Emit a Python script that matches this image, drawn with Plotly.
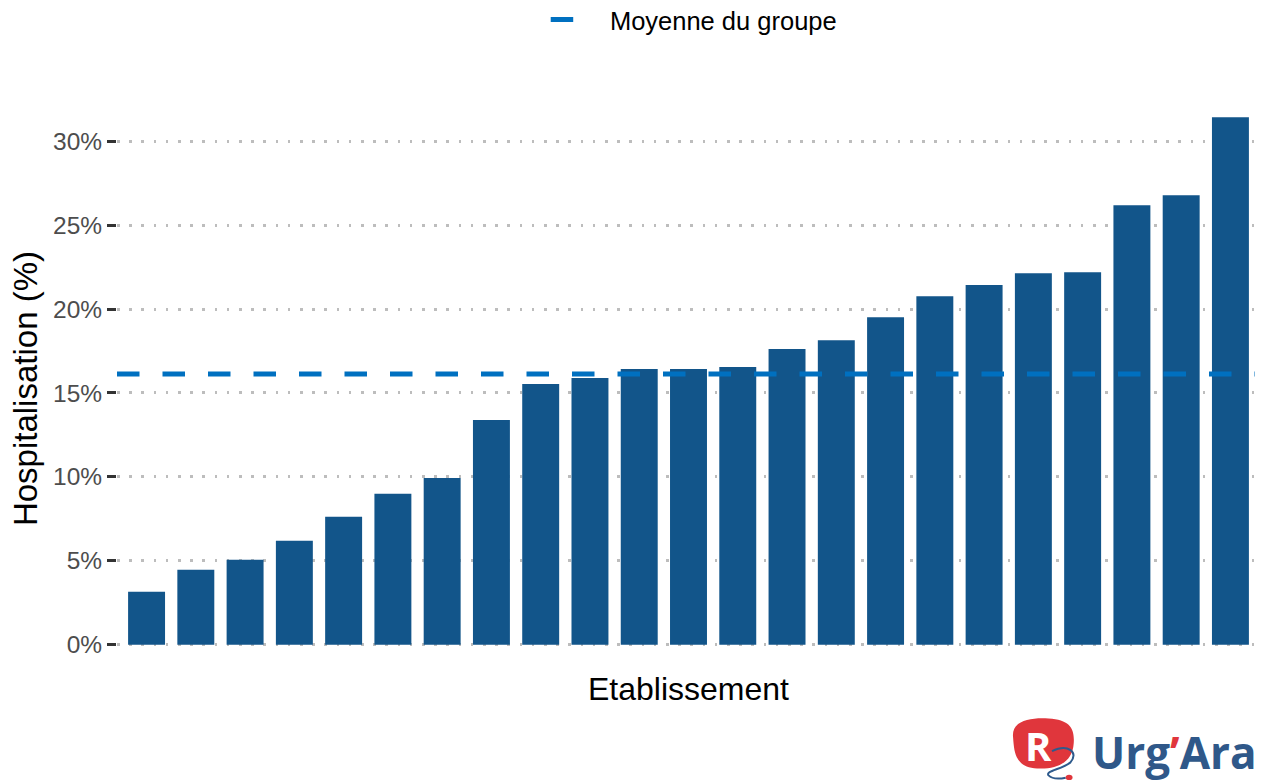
import plotly.graph_objects as go

# taux d'hospitalisation par etablissement (trié)
etablissements = [f"Etab {i}" for i in range(1, 24)]
hospitalisation = [3.15, 4.46, 5.06, 6.19, 7.62, 8.99, 9.94, 13.39, 15.54, 15.89,
                   16.43, 16.43, 16.55, 17.62, 18.15, 19.52, 20.77, 21.43, 22.14,
                   22.20, 26.19, 26.79, 31.43]
moyenne_groupe = 16.13
y_ticks = [0, 5, 10, 15, 20, 25, 30]
y_labels = ["0%", "5%", "10%", "15%", "20%", "25%", "30%"]

fig = go.Figure()
fig.add_trace(go.Bar(x=etablissements, y=hospitalisation, marker_color="#12558A",
                     marker_line_width=0, showlegend=False, hoverinfo="x+y"))

# ligne moyenne du groupe
fig.add_shape(type="line", xref="paper", x0=0, x1=1, yref="y",
              y0=moyenne_groupe, y1=moyenne_groupe,
              line=dict(color="#0070C0", width=5, dash="22.5px,23px"),
              showlegend=True, name="\u00a0\u00a0Moyenne du groupe", layer="above")

ymax = max(hospitalisation)
pad = ymax * 0.05
n = len(etablissements)
# la page html a une marge de 8px -> figure un peu plus petite
fig.update_layout(
    width=1255, height=774,
    margin=dict(l=109, r=3, t=83, b=111),
    plot_bgcolor="white", paper_bgcolor="white",
    bargap=0.25,
    font=dict(family="Liberation Sans, Arial, sans-serif", color="black"),
    legend=dict(orientation="h", x=0.505, xanchor="center", yref="container",
                y=1 - 12 / 774, yanchor="middle", font=dict(size=25.5, color="black"),
                itemwidth=40),
    xaxis=dict(range=[-0.6, n - 0.4], showticklabels=False, ticks="",
               showgrid=False, zeroline=False,
               title=dict(text="Etablissement", font=dict(size=32), standoff=6)),
    yaxis=dict(range=[-pad, ymax + pad], tickvals=y_ticks, ticktext=y_labels,
               ticks="outside", ticklen=9, tickwidth=2.5, tickcolor="#333333",
               tickfont=dict(size=24.5, color="#4D4D4D"),
               showgrid=True, gridcolor="#BDBDBD", gridwidth=2.6, griddash="2.6px,9.6px",
               zeroline=False, showline=False),
)

# titre axe y
fig.add_annotation(x=-92 / 1143, y=0.486, xref="paper", yref="paper",
                   text="Hospitalisation (%)", textangle=-90, showarrow=False,
                   xanchor="center", yanchor="middle", font=dict(size=33, color="black"))

# logo Urg'Ara
fig.add_shape(type="path", xref="paper", yref="paper", layer="below",
              path="M 0.784,-0.115 C 0.782,-0.085 0.80,-0.08 0.815,-0.082 "
                   "C 0.834,-0.084 0.838,-0.10 0.837,-0.125 "
                   "C 0.836,-0.158 0.822,-0.17 0.805,-0.168 "
                   "C 0.787,-0.166 0.785,-0.145 0.784,-0.115 Z",
              fillcolor="#E0363C", line_width=0)
fig.add_annotation(x=0.806, y=-0.128, xref="paper", yref="paper", text="<b>R</b>",
                   showarrow=False, xanchor="center", yanchor="middle",
                   font=dict(size=40, color="white", family="Open Sans, sans-serif"))
fig.add_shape(type="path", xref="paper", yref="paper", layer="above",
              path="M 0.818,-0.138 C 0.832,-0.125 0.842,-0.14 0.834,-0.158 "
                   "C 0.826,-0.17 0.812,-0.172 0.815,-0.18 "
                   "C 0.818,-0.186 0.825,-0.186 0.83,-0.184",
              line=dict(color="#2E5A8C", width=2))
fig.add_shape(type="circle", xref="paper", yref="paper", layer="above",
              x0=0.830, x1=0.836, y0=-0.179, y1=-0.188,
              fillcolor="#E0363C", line_width=0)
fig.add_annotation(x=0.998, y=-0.14, xref="paper", yref="paper", xanchor="right",
                   yanchor="middle", borderpad=0,
                   text="<b>Urg<span style='color:#E0363C'>’</span>Ara</b>",
                   showarrow=False, font=dict(size=44, color="#2F5889",
                                              family="Open Sans, sans-serif"))

fig.write_html("out.html")
